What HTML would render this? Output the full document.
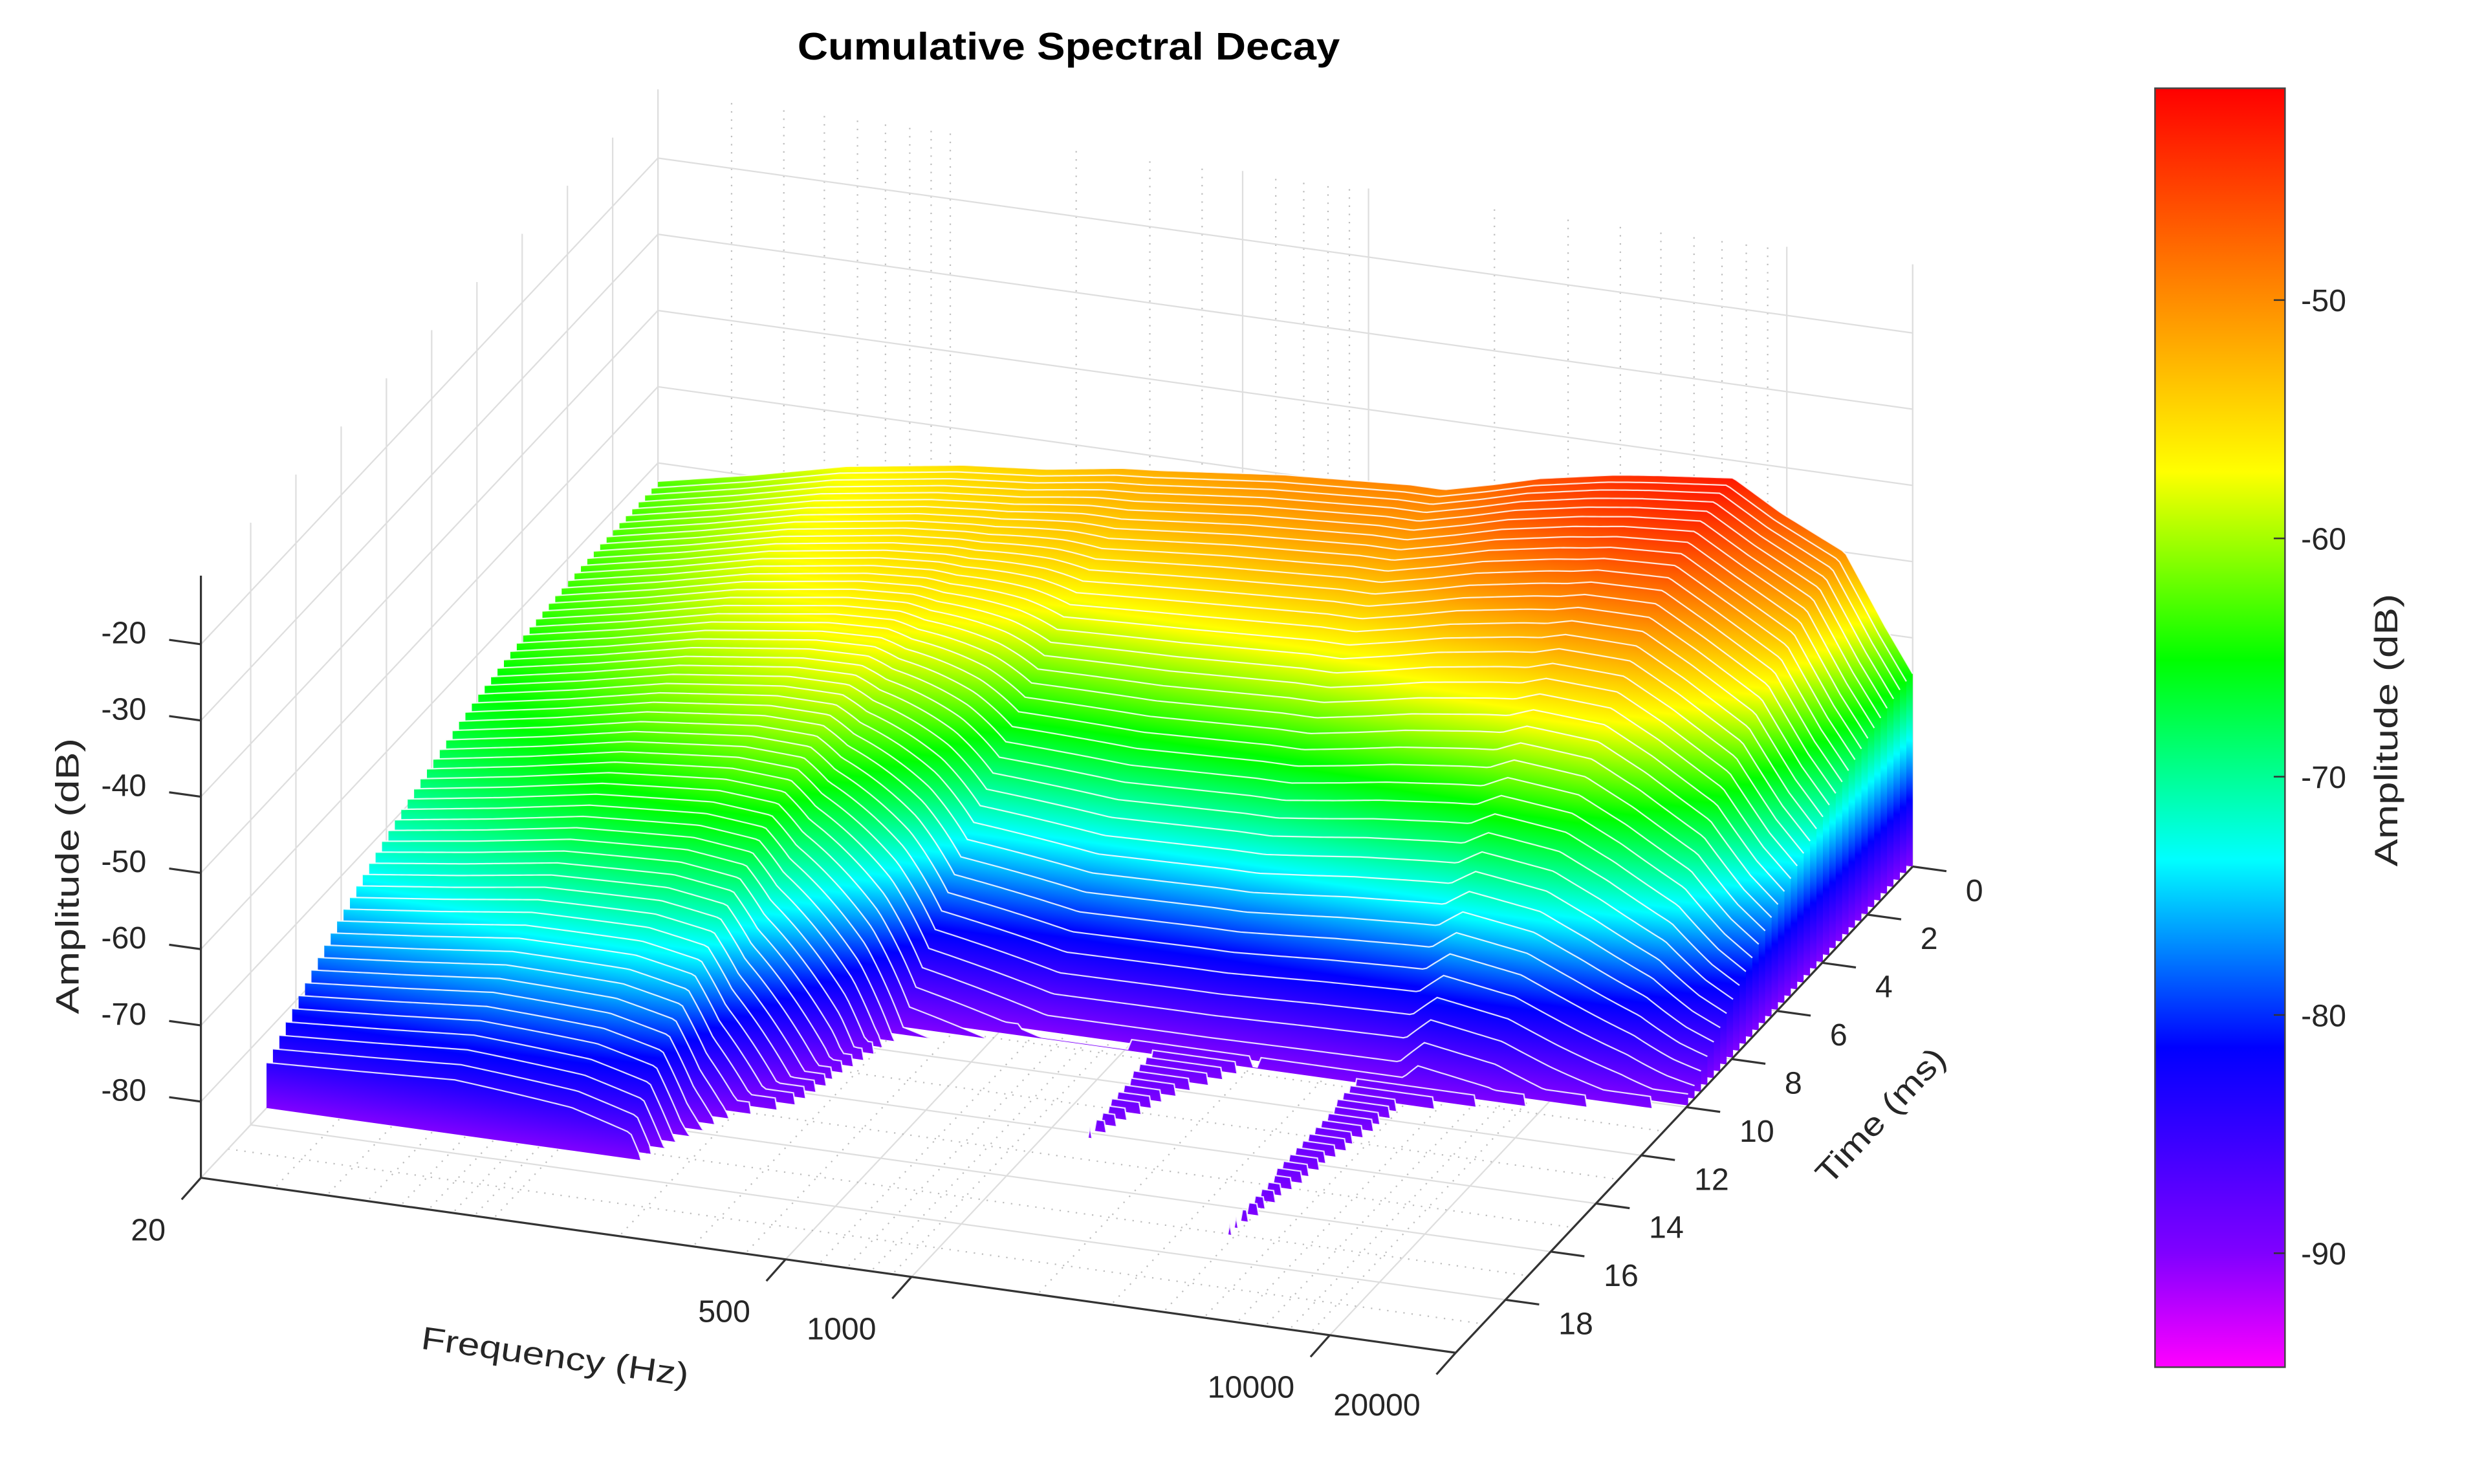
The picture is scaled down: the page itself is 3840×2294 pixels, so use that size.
<!DOCTYPE html>
<html><head><meta charset="utf-8"><title>Cumulative Spectral Decay</title>
<style>html,body{margin:0;padding:0;background:#fff;}svg{display:block;}text{font-family:"Liberation Sans",sans-serif;fill:#262626;}</style>
</head><body>
<svg id="chart" xmlns="http://www.w3.org/2000/svg" width="3840" height="2294" viewBox="0 0 1548 924.8">
<defs>
<linearGradient id="cmap" gradientUnits="userSpaceOnUse" x1="410" y1="454.75" x2="445.08" y2="203.15">
<stop offset="0" stop-color="#ff00ff"/><stop offset="0.0926" stop-color="#8000ff"/><stop offset="0.252" stop-color="#0000ff"/><stop offset="0.398" stop-color="#00ffff"/><stop offset="0.554" stop-color="#00ff00"/><stop offset="0.70" stop-color="#ffff00"/><stop offset="1" stop-color="#ff0000"/>
</linearGradient>
<linearGradient id="cbar" x1="0" y1="1" x2="0" y2="0">
<stop offset="0" stop-color="#ff00ff"/><stop offset="0.089" stop-color="#8000ff"/><stop offset="0.250" stop-color="#0000ff"/><stop offset="0.397" stop-color="#00ffff"/><stop offset="0.553" stop-color="#00ff00"/><stop offset="0.700" stop-color="#ffff00"/><stop offset="1" stop-color="#ff0000"/>
</linearGradient>
</defs>
<g id="grid"></g>
<g id="surface"></g>
<g id="axes"></g>
<text x="666" y="37" text-anchor="middle" font-size="24" font-weight="bold" textLength="338" lengthAdjust="spacingAndGlyphs" style="fill:#000">Cumulative Spectral Decay</text>
<text transform="translate(49,546) rotate(-90)" text-anchor="middle" font-size="20" textLength="172" lengthAdjust="spacingAndGlyphs">Amplitude (dB)</text>
<text transform="translate(345,852) rotate(7.93)" text-anchor="middle" font-size="20" textLength="168" lengthAdjust="spacingAndGlyphs">Frequency (Hz)</text>
<text transform="translate(1177,700) rotate(-46.8)" text-anchor="middle" font-size="20" textLength="108" lengthAdjust="spacingAndGlyphs">Time (ms)</text>
<g>
<rect x="1343" y="55" width="81" height="797" fill="url(#cbar)" stroke="#444" stroke-width="1"/>
<g id="cbticks"></g>
<text transform="translate(1494,455) rotate(-90)" text-anchor="middle" font-size="20" textLength="170" lengthAdjust="spacingAndGlyphs">Amplitude (dB)</text>
</g>
</svg>
<script>
// ---- data ----
const fnNodes   = [0, 0.077, 0.15, 0.243, 0.29, 0.31, 0.37, 0.40, 0.499, 0.59, 0.60, 0.627, 0.667, 0.703, 0.755, 0.762, 0.78, 0.80, 0.857, 0.895, 0.946, 0.978, 1];
const amp0      = [-62.4, -59.8, -57, -54.7, -54, -53.7, -52.2, -51.8, -50.1, -49.2, -49.1, -49.1, -47.5, -45.9, -44.3, -44.1, -43.7, -43.3, -42.3, -46, -50, -59, -64.7];
const tEnd      = [19, 19, 19, 18.5, 18, 16.5, 13.5, 11.5, 10.8, 10.8, 10.8, 10.8, 10.8, 10.8, 10.8, 10.8, 10.8, 11.2, 11, 10.7, 10.4, 10.2, 10.1];
const decayShape= [2.6, 2.6, 2.6, 2.6, 2.5, 2.3, 2.0, 1.9, 1.9, 1.9, 1.9, 1.9, 1.9, 1.9, 1.9, 1.9, 1.9, 1.9, 1.8, 1.8, 1.6, 1.5, 1.5];
const tailEnd   = [17.5, 17.5, 17.5, 17.5, 17.5, 15.7, 14.6, 11.2, 10.7, 10.8, 14.4, 12.5, 10.75, 10.9, 11, 17.2, 14.5, 11.6, 11, 10.7, 10.4, 10.2, 10.1];
const tailLevel = -88.5;
const sliceCount = 62;
const lastSliceTime = 17.3;
const freqTicks = [20, 500, 1000, 10000, 20000];
const freqTickLabels = ["20", "500", "1000", "10000", "20000"];
const timeTicks = [0, 2, 4, 6, 8, 10, 12, 14, 16, 18];
const zTicks = [-20, -30, -40, -50, -60, -70, -80];
const cbTicks = [-50, -60, -70, -80, -90];

// ---- axis functions ----
const NS = "http://www.w3.org/2000/svg";
const T_MAX = 20.2, Z_MIN = -90, Z_MAX = -11;
function fnOf(f){ return Math.log10(f/20)/3; }
function PX(fn,t){ return 410 + 782*fn - 14.1*t; }
function PY(fn,t,z){ return 431 + 109*fn + 15.0*t - 4.75*(z+90); }
function cbY(v){ return 187 + (-50 - v)*14.85; }
function mk(tag, attrs, parent){ const e=document.createElementNS(NS,tag); for(const k in attrs) e.setAttribute(k,attrs[k]); parent.appendChild(e); return e; }
function interp(arr, fn){
  for(let i=0;i<fnNodes.length-1;i++){
    if(fn<=fnNodes[i+1]){ const r=(fn-fnNodes[i])/(fnNodes[i+1]-fnNodes[i]); return arr[i]+(arr[i+1]-arr[i])*r; }
  }
  return arr[arr.length-1];
}
function amp(fn,t){
  const a0=interp(amp0,fn), T=interp(tEnd,fn), p=interp(decayShape,fn), tl=interp(tailEnd,fn);
  let a = a0 + (-90 - a0)*Math.pow(t/T, p);
  if(t<=tl && a<tailLevel) a=tailLevel;
  return a;
}

// ---- grid ----
const grid=document.getElementById('grid');
function line(x1,y1,x2,y2,dashed,name,parent){
  const e=mk('line',{x1:x1.toFixed(2),y1:y1.toFixed(2),x2:x2.toFixed(2),y2:y2.toFixed(2),stroke:dashed?'#bdbdbd':'#dedede','stroke-width':0.9},parent||grid);
  if(dashed) e.setAttribute('stroke-dasharray','0.9 4.2');
  
  
  return e;
}
const minorFreqs=[];
for(let d=10; d<=10000; d*=10){ for(let m=1;m<=9;m++){ const f=d*m; if(f>20 && f<20000 && freqTicks.indexOf(f)<0) minorFreqs.push(f); } }
minorFreqs.forEach(f=>{ const fn=fnOf(f);
  line(PX(fn,0),PY(fn,0,Z_MIN),PX(fn,0),PY(fn,0,Z_MAX),true,'back-wall-minor-freq-gridline');
  line(PX(fn,0),PY(fn,0,Z_MIN),PX(fn,T_MAX),PY(fn,T_MAX,Z_MIN),true,'floor-minor-freq-gridline');
});
freqTicks.forEach(f=>{ const fn=fnOf(f);
  line(PX(fn,0),PY(fn,0,Z_MIN),PX(fn,0),PY(fn,0,Z_MAX),false,'back-wall-freq-gridline');
  line(PX(fn,0),PY(fn,0,Z_MIN),PX(fn,T_MAX),PY(fn,T_MAX,Z_MIN),false,'floor-freq-gridline');
});
for(let t=1;t<20;t+=2){
  line(PX(0,t),PY(0,t,Z_MIN),PX(1,t),PY(1,t,Z_MIN),true,'floor-minor-time-gridline');
}
timeTicks.forEach(t=>{
  line(PX(0,t),PY(0,t,Z_MIN),PX(1,t),PY(1,t,Z_MIN),false,'floor-time-gridline');
  line(PX(0,t),PY(0,t,Z_MIN),PX(0,t),PY(0,t,Z_MAX),false,'left-wall-time-gridline');
});
[-90].concat(zTicks).forEach(z=>{
  line(PX(0,0),PY(0,0,z),PX(1,0),PY(1,0,z),false,'back-wall-z-gridline');
  line(PX(0,0),PY(0,0,z),PX(0,T_MAX),PY(0,T_MAX,z),false,'left-wall-z-gridline');
});
line(PX(1,0),PY(1,0,Z_MIN),PX(1,0),PY(1,0,Z_MAX),false,'back-wall-right-edge');

// ---- surface (slices back to front) ----
const surf=document.getElementById('surface');
const M=320;
for(let i=0;i<sliceCount;i++){
  const t=lastSliceTime*i/(sliceCount-1);
  const g=mk('g',{transform:'translate('+(PX(0,t)-PX(0,0)).toFixed(2)+','+(PY(0,t,-90)-PY(0,0,-90)).toFixed(2)+')'},surf);
  
  
  const vals=[]; for(let j=0;j<=M;j++) vals.push(amp(j/M,t));
  let run=null; const runs=[];
  for(let j=0;j<=M;j++){
    const fn=j/M, a=vals[j];
    if(a>=-90){
      if(!run){ run=[]; if(j>0){ run.push([(j-0.5)/M,-90]); } }
      run.push([fn,a]);
    } else if(run){ run.push([(j-0.5)/M,-90]); runs.push(run); run=null; }
  }
  if(run) runs.push(run);
  runs.forEach(rn=>{
    let d='M'+PX(rn[0][0],0).toFixed(2)+','+PY(rn[0][0],0,-90).toFixed(2);
    let c='';
    rn.forEach((p,k)=>{ const s=PX(p[0],0).toFixed(2)+','+PY(p[0],0,p[1]).toFixed(2); d+='L'+s; c+=(k?'L':'M')+s; });
    const last=rn[rn.length-1][0];
    d+='L'+PX(last,0).toFixed(2)+','+PY(last,0,-90).toFixed(2)+'Z';
    const fill=mk('path',{d:d,fill:'url(#cmap)',stroke:'none'},g);
    
    
    const ln=mk('path',{d:c,fill:'none',stroke:'#ffffff','stroke-width':0.9,'stroke-opacity':0.85},g);
    
    
  });
}

// ---- axes ----
const ax=document.getElementById('axes');
function aline(x1,y1,x2,y2,name){
  const e=mk('line',{x1:x1.toFixed(2),y1:y1.toFixed(2),x2:x2.toFixed(2),y2:y2.toFixed(2),stroke:'#333','stroke-width':1.3},ax);
  
  
}
aline(PX(0,T_MAX),PY(0,T_MAX,Z_MIN),PX(0,T_MAX),PY(0,T_MAX,Z_MAX),'z-axis-line');
aline(PX(0,T_MAX),PY(0,T_MAX,Z_MIN),PX(1,T_MAX),PY(1,T_MAX,Z_MIN),'x-axis-line');
aline(PX(1,0),PY(1,0,Z_MIN),PX(1,T_MAX),PY(1,T_MAX,Z_MIN),'time-axis-line');
function label(x,y,txt,anchor,name){
  const e=mk('text',{x:x.toFixed(2),y:y.toFixed(2),'text-anchor':anchor,'font-size':19.5},ax);
  e.textContent=txt;
  
  
}
zTicks.forEach(z=>{
  const x=PX(0,T_MAX), y=PY(0,T_MAX,z);
  aline(x,y,x-19.8,y-2.76,'z-tick');
  label(x-34,y-0.5,String(z),'end','z-tick-label');
});
freqTicks.forEach((f,k)=>{
  const fn=fnOf(f), x=PX(fn,T_MAX), y=PY(fn,T_MAX,Z_MIN);
  aline(x,y,x-12,y+13.5,'x-tick');
  label(x-22,y+39,freqTickLabels[k],'end','x-tick-label');
});
timeTicks.forEach(t=>{
  const x=PX(1,t), y=PY(1,t,Z_MIN);
  aline(x,y,x+21,y+2.9,'time-tick');
  label(x+33,y+21.5,String(t),'start','time-tick-label');
});

// ---- colorbar ticks ----
const cbt=document.getElementById('cbticks');
cbTicks.forEach(v=>{
  const y=cbY(v);
  const e=mk('line',{x1:1417,y1:y.toFixed(2),x2:1424,y2:y.toFixed(2),stroke:'#333','stroke-width':1},cbt);
  
  
  const tx=mk('text',{x:1434,y:(y+7).toFixed(2),'font-size':19.5},cbt);
  tx.textContent=String(v);
  
  
});
</script>
</body></html>
